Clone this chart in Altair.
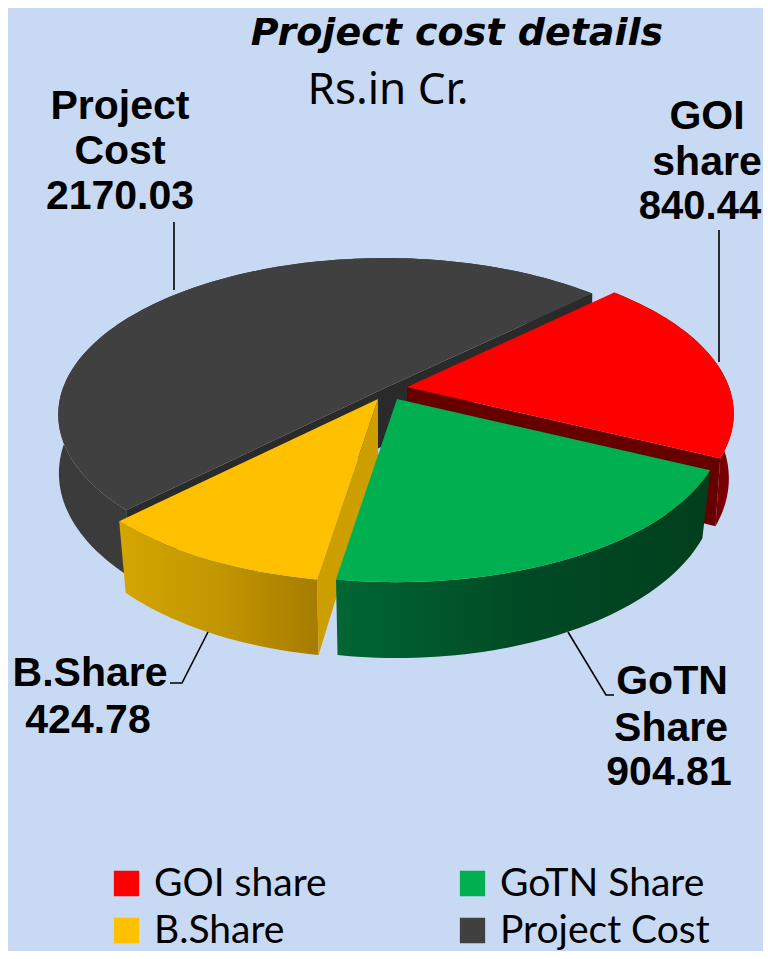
import math
import altair as alt

# ---- values ----
names = ["GOI share", "GoTN Share", "B.Share", "Project Cost"]
values = [840.44, 904.81, 424.78, 2170.03]
legend_order = ["GOI share", "B.Share", "GoTN Share", "Project Cost"]
legend_colors = ["#FF0000", "#FFC000", "#00B050", "#404040"]
title_text = "Project cost details"
unit_text = "Rs.in Cr."
label_lines = [
    ["Project", "Cost", "2170.03"],
    ["GOI", "share", "840.44"],
    ["GoTN", "Share", "904.81"],
    ["B.Share", "424.78"],
]

# ---- pie view geometry (page pixels) ----
OFF = 8
A, B, P = 322, 152, 0.17
START = 46.0
apex = {"GOI share": (407, 387), "GoTN Share": (397, 399), "B.Share": (378, 399), "Project Cost": (385, 388)}
shrink = {"GOI share": 0.985, "GoTN Share": 0.975, "B.Share": 0.975, "Project Cost": 0.998}
depth = {"GOI share": 63, "GoTN Share": 63, "B.Share": 63, "Project Cost": 57}
# small per-edge corrections (degrees) for the picture's 3-D view
nudge = {"GOI share": (0, 0), "GoTN Share": (0, -1.7), "B.Share": (-1.7, -1.0), "Project Cost": (-1.0, 0)}

total = sum(values)
angles = {}
a = START
for n, v in zip(names, values):
    e = a + v / total * 360
    angles[n] = (a + nudge[n][0], e + nudge[n][1])
    a = e


def rim(name, deg, bottom=False):
    cx, cy = apex[name]
    t = math.radians(deg)
    w = 1 + P * math.cos(t)
    x = A * math.sin(t) / w
    y = -B * math.cos(t) / w
    if bottom:
        return [cx + shrink[name] * x - OFF, cy + y + depth[name] / w - OFF]
    return [cx + x - OFF, cy + y - OFF]


def arc_pts(name, bottom=False):
    s, e = angles[name]
    n = int((e - s) / 1.5) + 2
    return [rim(name, s + (e - s) * i / (n - 1), bottom) for i in range(n)]


def feature(ring, name):
    ring = ring + [ring[0]]
    return {"type": "Feature", "properties": {"name": name},
            "geometry": {"type": "Polygon", "coordinates": [ring]}}


def top_face(name):
    cx, cy = apex[name]
    return feature([[cx - OFF, cy - OFF]] + arc_pts(name), name)


def wall(name):
    return feature(arc_pts(name) + arc_pts(name, True)[::-1], name)


def cut(name, deg):
    cx, cy = apex[name]
    return feature([[cx - OFF, cy - OFF], rim(name, deg), rim(name, deg, True), [cx - OFF, cy + depth[name] - OFF]], name)


PROJ = dict(type="identity", scale=1, translate=[0, 0])


def shape(features, fill):
    return alt.Chart(alt.Data(values=features)).mark_geoshape(fill=fill, strokeWidth=0).project(**PROJ)


def grad(stops):
    return alt.Gradient(gradient="linear", x1=0, x2=1, y1=0, y2=0,
                        stops=[alt.GradientStop(offset=o, color=c) for o, c in stops])


color = alt.Color("properties.name:N",
                  scale=alt.Scale(domain=legend_order, range=legend_colors),
                  legend=alt.Legend(title=None, orient="none", legendX=99, legendY=853, columns=2,
                                    symbolType="square", symbolSize=640, symbolStrokeWidth=0,
                                    labelFont="Lato", labelFontSize=39, labelColor="#000000",
                                    labelOffset=8, columnPadding=126, rowPadding=2, labelLimit=300,
                                    symbolOpacity=1, clipHeight=45))


def top(name):
    return alt.Chart(alt.Data(values=[top_face(name)])).mark_geoshape(strokeWidth=0).encode(color=color).project(**PROJ)


def text(s, x, y, size, font, bold=True, italic=False, align="center"):
    return alt.Chart(alt.Data(values=[{"t": s}])).mark_text(
        font=font, fontSize=size, fontWeight="bold" if bold else "normal",
        fontStyle="italic" if italic else "normal", align=align, baseline="alphabetic", color="#000000"
    ).encode(x=alt.value(x - OFF), y=alt.value(y - OFF), text="t:N")


def leader(pts):
    f = {"type": "Feature", "properties": {},
         "geometry": {"type": "LineString", "coordinates": [[px - OFF, py - OFF] for px, py in pts]}}
    return alt.Chart(alt.Data(values=[f])).mark_geoshape(filled=False, stroke="#000000", strokeWidth=1.6).project(**PROJ)


layers = []
pc = "Project Cost"
layers += [shape([wall(pc)], "#3B3B3B"),
           shape([cut(pc, angles[pc][0]), cut(pc, angles[pc][1])], "#2A2A2A"),
           top(pc)]
g = "GOI share"
layers += [shape([wall(g)], "#780000"), shape([cut(g, angles[g][1])], "#660000"), top(g)]
b = "B.Share"
layers += [shape([wall(b)], grad([(0, "#D4A600"), (0.5, "#C29600"), (1, "#A67C00")])),
           shape([cut(b, angles[b][0])], "#CC9E00"), top(b)]
t = "GoTN Share"
layers += [shape([wall(t)], grad([(0, "#006733"), (0.5, "#004A25"), (1, "#003F1D")])), top(t)]

layers += [leader([(174, 222), (174, 290)]),
           leader([(719, 230), (719, 362)]),
           leader([(568, 632), (606, 695), (614, 695)]),
           leader([(208, 632), (182, 683), (170, 683)])]

layers += [text(title_text, 457, 45, 38, "DejaVu Sans", italic=True),
           text(unit_text, 388, 104, 44, "Noto Sans", bold=False)]

label_pos = [([120, 120, 120], [119, 164, 209], [41, 41, 41]),
             ([707, 707, 700], [129, 175, 219], [41, 41, 40]),
             ([672, 671, 669], [694, 741, 785], [41, 41, 41]),
             ([90, 88], [686, 733], [41, 41])]
for lines, (xs, ys, sizes) in zip(label_lines, label_pos):
    for s, x, y, size in zip(lines, xs, ys, sizes):
        layers.append(text(s, x, y, size, "Liberation Sans"))

chart = alt.layer(*layers).properties(
    width=755, height=943, background="#C8D9F4", padding=0,
    autosize=alt.AutoSizeParams(type="none", contains="content"),
).configure_view(stroke=None)

chart.save("out.html", embed_options={"renderer": "svg", "actions": False})
